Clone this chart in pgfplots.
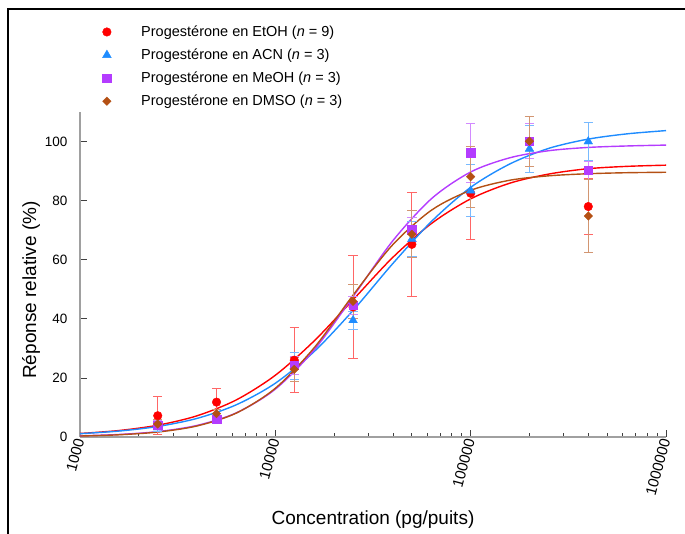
\documentclass[border=0pt]{standalone}
\usepackage{fontspec}
\setmainfont{Liberation Sans}
\usepackage{pgfplots}
\pgfplotsset{compat=1.18}
\definecolor{cred}{RGB}{255,0,0}
\definecolor{cblue}{RGB}{30,140,255}
\definecolor{cpurple}{RGB}{180,60,255}
\definecolor{cbrown}{RGB}{180,80,20}
\definecolor{axgray}{RGB}{160,160,160}

\pgfplotstableread{
x y
1000 1.19
1584.9 2.19
2511.9 4.01
3981.1 7.19
6309.6 12.55
10000 20.9
15849 32.6
25119 46.6
39811 60.7
63096 72.3
100000 80.6
158489 85.9
251189 89.0
398107 90.8
630957 91.6
1000000 92.0
}\curvered
\pgfplotstableread{
x y
1000 1.12
1584.9 2.01
2511.9 3.58
3981.1 6.31
6309.6 10.9
10000 18.2
15849 29.0
25119 43.0
39811 58.6
63096 73.0
100000 84.5
158489 92.4
251189 97.7
398107 100.8
630957 102.6
1000000 103.7
}\curveblue
\pgfplotstableread{
x y
1000 0.39
1584.9 0.86
2511.9 1.84
3981.1 3.93
6309.6 8.17
10000 16.2
15849 29.6
25119 47.7
39811 66.3
63096 80.7
100000 89.7
158489 94.5
251189 96.9
398107 98.0
630957 98.5
1000000 98.8
}\curvepurple
\pgfplotstableread{
x y
1000 0.33
1584.9 0.75
2511.9 1.69
3981.1 3.75
6309.6 8.09
10000 16.5
15849 30.3
25119 48.2
39811 65.0
63096 76.8
100000 83.5
158489 86.9
251189 88.4
398107 89.1
630957 89.45
1000000 89.6
}\curvebrown

\pgfplotstableread{
x y e
2500 7.2 6.5
5000 11.8 4.6
12500 26.0 11.0
25000 44.0 17.3
50000 65.2 17.5
100000 82.5 15.7
200000 100.0 8.5
400000 78.0 9.6
}\dred
\pgfplotstableread{
x y e
2500 3.2 1.5
5000 6.0 1.0
12500 24.0 4.5
25000 39.5 3.0
50000 67.0 6.0
100000 83.4 8.8
200000 97.5 8.0
400000 100.0 6.5
}\dblue
\pgfplotstableread{
x y e
2500 4.0 1.5
5000 6.1 1.0
12500 24.3 3.0
25000 44.6 3.0
50000 70.2 4.0
100000 96.2 10.0
200000 100.1 6.0
400000 90.2 3.0
}\dpurple
\pgfplotstableread{
x y e
2500 4.4 1.5
5000 7.9 1.5
12500 22.9 4.0
25000 45.9 5.7
50000 68.6 8.0
100000 88.1 10.3
200000 100.1 8.5
400000 74.8 12.4
}\dbrown

\begin{document}
\begin{tikzpicture}[x=1pt,y=1pt]
\useasboundingbox (-80,-97) rectangle (605,437);
\draw[line width=2.5pt] (-72,-100) -- (-72,428) -- (610,428);
\begin{axis}[
  at={(0,0)}, anchor=south west,
  scale only axis, width=586pt, height=325pt,
  xmode=log, xmin=1000, xmax=1000000, ymin=0, ymax=110,
  axis x line*=bottom, axis y line*=left,
  axis line style={axgray, line width=1.5pt, -},
  tick align=inside,
  major tick length=7pt, minor tick length=4pt,
  tick style={black!75, line width=0.8pt},
  xtick={1000,10000,100000,1000000},
  xticklabels={1000,10000,100000,1000000},
  ytick={0,20,40,60,80,100},
  /pgf/number format/assume math mode=true,
  yticklabel style={xshift=-9pt, font=\fontsize{13.5}{16}\selectfont},
  xticklabel style={rotate=75, anchor=east, inner sep=2pt, font=\fontsize{15}{17}\selectfont},
  xlabel={Concentration (pg/puits)},
  ylabel={Réponse relative (\%)},
  every axis x label/.style={at={(axis description cs:0.5,-0.226)}, anchor=north, inner sep=0pt,
    font=\fontsize{19}{22}\selectfont},
  every axis y label/.style={at={(axis description cs:-0.068,0.452)}, rotate=90, anchor=south, inner sep=0pt,
    font=\fontsize{19}{22}\selectfont},
  legend style={at={(axis description cs:0.0385,1.268)}, anchor=north west, draw=none, fill=none,
    font=\fontsize{14.5}{17}\selectfont, inner sep=0pt, outer sep=0pt,
    column sep=29pt, row sep=8.9pt,
    nodes={inner sep=1pt, anchor=west}},
  legend cell align=left,
  clip=false,
]
\addplot[cred, line width=1.4pt, smooth, forget plot] table[x=x,y=y] {\curvered};
\addplot[cblue, line width=1.4pt, smooth, forget plot] table[x=x,y=y] {\curveblue};
\addplot[cpurple, line width=1.4pt, smooth, forget plot] table[x=x,y=y] {\curvepurple};
\addplot[cbrown, line width=1.4pt, smooth, forget plot] table[x=x,y=y] {\curvebrown};

\addplot[only marks, mark=*, mark size=4.3pt, color=cred,
  error bars/.cd, y dir=both, y explicit,
  error bar style={cred!60, line width=1pt},
  error mark options={cred!60, line width=1pt, mark size=4.7pt, rotate=90}]
  table[x=x, y=y, y error=e] {\dred};
\addlegendentry{Progestérone en EtOH (\textit{n} = 9)}
\addplot[only marks, mark=triangle*, mark size=5pt, color=cblue,
  error bars/.cd, y dir=both, y explicit,
  error bar style={cblue!60, line width=1pt},
  error mark options={cblue!60, line width=1pt, mark size=4.7pt, rotate=90}]
  table[x=x, y=y, y error=e] {\dblue};
\addlegendentry{Progestérone en ACN (\textit{n} = 3)}
\addplot[only marks, mark=square*, mark size=4.2pt, color=cpurple,
  error bars/.cd, y dir=both, y explicit,
  error bar style={cpurple!60, line width=1pt},
  error mark options={cpurple!60, line width=1pt, mark size=4.7pt, rotate=90}]
  table[x=x, y=y, y error=e] {\dpurple};
\addlegendentry{Progestérone en MeOH (\textit{n} = 3)}
\addplot[only marks, mark=square*, mark size=3pt, mark options={rotate=45}, color=cbrown,
  error bars/.cd, y dir=both, y explicit,
  error bar style={cbrown!60, line width=1pt},
  error mark options={cbrown!60, line width=1pt, mark size=4.7pt, rotate=90}]
  table[x=x, y=y, y error=e] {\dbrown};
\addlegendentry{Progestérone en DMSO (\textit{n} = 3)}
\end{axis}
\end{tikzpicture}
\end{document}
